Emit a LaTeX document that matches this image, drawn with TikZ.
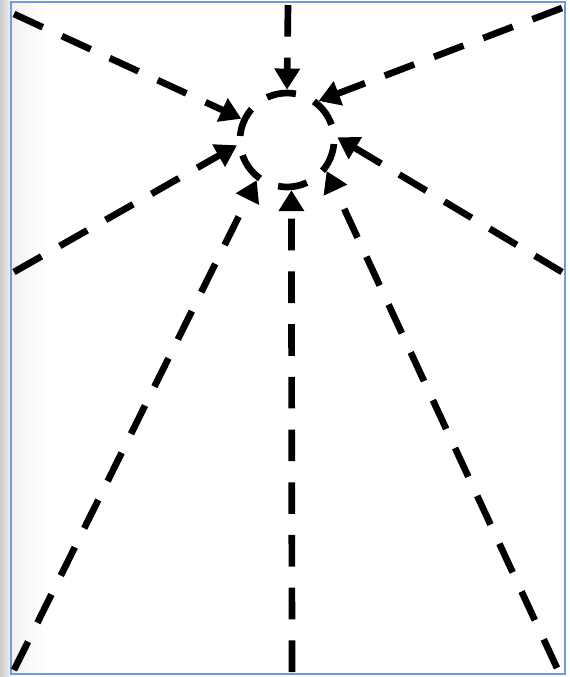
\documentclass[tikz,border=0pt]{standalone}
\usepackage{tikz}
\usetikzlibrary{arrows.meta,positioning}

\definecolor{framecol}{RGB}{114,155,222}

\begin{document}
\begin{tikzpicture}[x=0.02cm,y=-0.02cm,
                    >={Triangle[length=12pt,width=14pt]},
                    flow/.style={->,line width=3.8pt,dash pattern=on 18pt off 12pt},
                    hubring/.style={circle,draw,line width=3.8pt,inner sep=0pt,
                                    minimum size=1.88cm,
                                    dash pattern=on 16.8pt off 11.2pt,dash phase=19.1pt}]
  \useasboundingbox (0,0) rectangle (569,677);
  % page edge and frame
  \shade[left color=black!20, right color=black!5] (0,0) rectangle (11,677);
  \shade[left color=black!5, right color=white] (11,2) rectangle (45,674);
  \draw[framecol, line width=1.2pt] (11,2) rectangle (565,674);

  \node[hubring] (hub) at (287,140) {};

  \coordinate (nw) at (14,14);
  \coordinate (n)  at (288,5);
  \coordinate (ne) at (562,8);
  \coordinate (w)  at (14,272);
  \coordinate (e)  at (562,272);
  \coordinate (sw) at (14,670);
  \coordinate (s)  at (292,672);
  \coordinate (se) at (557,668);

  \draw[flow] (n)  -- (hub.90);
  \draw[flow] (nw) -- (hub.155);
  \draw[flow] (ne) -- (hub.51);
  \draw[flow] (w)  -- (hub.186);
  \draw[flow] (e)  -- (hub.3);
  \draw[flow] (sw) -- (hub.233);
  \draw[flow] (s)  -- (hub.275);
  \draw[flow] (se) -- (hub.322);
\end{tikzpicture}
\end{document}
